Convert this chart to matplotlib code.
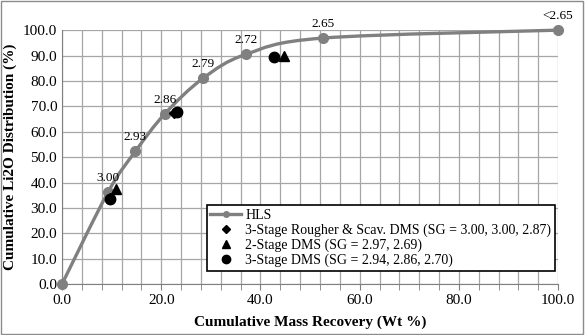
import numpy as np
import matplotlib.pyplot as plt
from matplotlib.path import Path
from matplotlib.patches import PathPatch
from matplotlib.ticker import MultipleLocator

plt.rcParams['font.family'] = ['Liberation Serif', 'DejaVu Serif']

# HLS curve
hls_x = [0.0, 9.3, 14.8, 20.7, 28.4, 37.1, 52.7, 100.0]
hls_y = [0.0, 36.3, 52.3, 67.0, 81.0, 90.5, 96.9, 100.0]
hls_lab = ['', '3.00', '2.93', '2.86', '2.79', '2.72', '2.65', '<2.65']

# test results
rs_x = [9.7, 22.5]
rs_y = [34.0, 67.2]
ds2_x = [10.9, 44.8]
ds2_y = [37.5, 89.8]
ds3_x = [9.7, 23.1, 42.8]
ds3_y = [33.7, 67.6, 89.3]

fig = plt.figure(figsize=(5.85, 3.35), dpi=100)
ax = fig.add_axes([0.106, 0.152, 0.848, 0.758])

# smoothed line like a spreadsheet chart (bezier through the points)
px, py = np.array(hls_x), np.array(hls_y)
verts = [(px[0], py[0])]
codes = [Path.MOVETO]
n = len(px)
for i in range(n - 1):
    p0 = np.array([px[max(i - 1, 0)], py[max(i - 1, 0)]])
    p1 = np.array([px[i], py[i]])
    p2 = np.array([px[i + 1], py[i + 1]])
    p3 = np.array([px[min(i + 2, n - 1)], py[min(i + 2, n - 1)]])
    c1 = p1 + (p2 - p0) / 6.0
    c2 = p2 - (p3 - p1) / 6.0
    verts += [tuple(c1), tuple(c2), tuple(p2)]
    codes += [Path.CURVE4] * 3
ax.add_patch(PathPatch(Path(verts, codes), fill=False, edgecolor='#808080', lw=2.4,
                       zorder=3, clip_on=False))
ax.plot(hls_x, hls_y, 'o', color='#808080', ms=7, zorder=4, clip_on=False)
ax.plot([], [], '-o', color='#808080', lw=2.4, ms=5, label='HLS')

ax.plot(rs_x, rs_y, 'D', color='black', ms=5.5, ls='none', zorder=5,
        label='3-Stage Rougher & Scav. DMS (SG = 3.00, 3.00, 2.87)')
ax.plot(ds2_x, ds2_y, '^', color='black', ms=7.5, ls='none', zorder=5,
        label='2-Stage DMS (SG = 2.97, 2.69)')
ax.plot(ds3_x, ds3_y, 'o', color='black', ms=7.5, ls='none', zorder=5,
        label='3-Stage DMS (SG = 2.94, 2.86, 2.70)')

for x, y, t in zip(hls_x, hls_y, hls_lab):
    if t:
        ax.annotate(t, (x, y), xytext=(0, 6), textcoords='offset points',
                    ha='center', va='bottom', fontsize=9.5)

ax.set_xlim(0, 100)
ax.set_ylim(0, 100)
ax.xaxis.set_major_locator(MultipleLocator(20))
ax.xaxis.set_minor_locator(MultipleLocator(4))
ax.yaxis.set_major_locator(MultipleLocator(10))
ax.xaxis.set_major_formatter('{x:.1f}')
ax.yaxis.set_major_formatter('{x:.1f}')
ax.grid(which='both', axis='x', color='#a6a6a6', lw=0.9)
ax.grid(which='major', axis='y', color='#a6a6a6', lw=0.9)
ax.set_axisbelow(True)
for s in ['top', 'right']:
    ax.spines[s].set_visible(False)
for s in ['left', 'bottom']:
    ax.spines[s].set_color('#7f7f7f')
ax.tick_params(which='both', length=4, color='#7f7f7f', labelsize=11)
ax.tick_params(axis='y', length=0)
ax.set_xlabel('Cumulative Mass Recovery (Wt %)', fontsize=11, fontweight='bold', labelpad=6)
ax.set_ylabel('Cumulative Li2O Distribution (%)', fontsize=11, fontweight='bold', labelpad=4)

leg = ax.legend(loc='lower right', bbox_to_anchor=(1.007, 0.025), fontsize=10,
                frameon=True, fancybox=False, edgecolor='black', framealpha=1,
                handlelength=2.2, borderpad=0.25, labelspacing=0.12, handletextpad=0.3,
                markerscale=0.8)
leg.get_frame().set_linewidth(1.2)

fig.patches.append(plt.Rectangle((0.002, 0.003), 0.995, 0.994, transform=fig.transFigure,
                                 fill=False, edgecolor='#8c8c8c', lw=1))
plt.savefig('out.png', dpi=100)
